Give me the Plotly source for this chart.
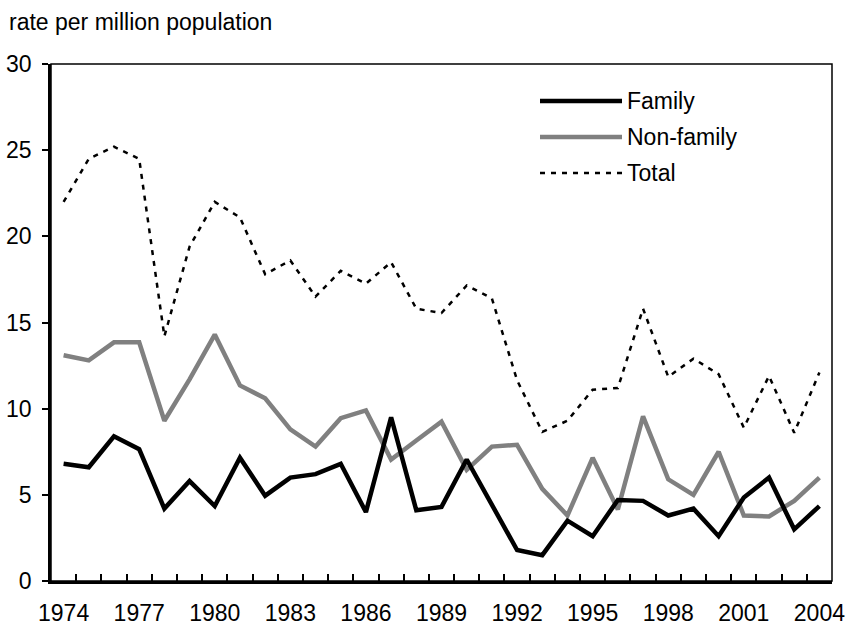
import plotly.graph_objects as go

#%% data
years = list(range(1974, 2005))

family = [6.8, 6.6, 8.4, 7.65, 4.2, 5.8, 4.35, 7.15, 4.95, 6.0,
          6.2, 6.8, 4.0, 9.5, 4.1, 4.3, 7.05, 4.4, 1.8, 1.5,
          3.5, 2.6, 4.7, 4.65, 3.8, 4.2, 2.6, 4.85, 6.0, 3.0,
          4.35]

non_family = [13.1, 12.8, 13.85, 13.85, 9.3, 11.7, 14.3, 11.35, 10.6, 8.8,
              7.8, 9.45, 9.9, 7.05, 8.15, 9.25, 6.45, 7.8, 7.9, 5.35,
              3.8, 7.15, 4.15, 9.55, 5.9, 5.0, 7.5, 3.8, 3.75, 4.65,
              6.0]

total = [22.0, 24.5, 25.2, 24.5, 14.2, 19.4, 22.0, 21.1, 17.8, 18.6,
         16.5, 18.0, 17.25, 18.5, 15.8, 15.55, 17.15, 16.4, 11.65, 8.65,
         9.3, 11.1, 11.2, 15.8, 11.85, 12.9, 12.0, 8.9, 11.9, 8.6,
         12.1]

tick_years = [1974, 1977, 1980, 1983, 1986, 1989, 1992, 1995, 1998, 2001, 2004]

FONT = "Liberation Sans, Arial, sans-serif"
FS = 23

#%% plot area in pixels (845 x 626 page)
L, R, T, B = 51, 832, 64, 581
W, H = 845, 626


def px_x(x):
    return (x - L) / (R - L)


def px_y(y):
    return (B - y) / (B - T)


fig = go.Figure()
fig.add_trace(go.Scatter(x=years, y=total, mode="lines", name="Total",
                         line=dict(color="black", width=2.5, dash="5px,6px")))
fig.add_trace(go.Scatter(x=years, y=non_family, mode="lines", name="Non-family",
                         line=dict(color="#808080", width=4.5)))
fig.add_trace(go.Scatter(x=years, y=family, mode="lines", name="Family",
                         line=dict(color="black", width=4.5)))

# legend drawn by hand so the sample lines are as long as in the original
legend_rows = [("Family", dict(color="black", width=4.5), 101),
               ("Non-family", dict(color="#808080", width=4.5), 137),
               ("Total", dict(color="black", width=2.5, dash="5px,6px"), 173)]
for name, ln, py in legend_rows:
    fig.add_shape(type="line", xref="paper", yref="paper",
                  x0=px_x(540), x1=px_x(622), y0=px_y(py), y1=px_y(py), line=ln)
    fig.add_annotation(text=name, xref="paper", yref="paper", x=px_x(625), y=px_y(py),
                       xanchor="left", yanchor="middle", showarrow=False,
                       font=dict(family=FONT, size=FS, color="black"))

# frame on top and right
fig.add_shape(type="rect", xref="paper", yref="paper", x0=0, x1=1, y0=0, y1=1,
              line=dict(color="black", width=1.5), layer="above")

fig.add_annotation(text="rate per million population", xref="paper", yref="paper",
                   x=px_x(7), y=px_y(22), xanchor="left", yanchor="middle",
                   showarrow=False, font=dict(family=FONT, size=FS, color="black"))

fig.update_layout(
    width=W, height=H,
    margin=dict(l=L, r=W - R, t=T, b=H - B),
    plot_bgcolor="white", paper_bgcolor="white",
    showlegend=False,
    font=dict(family=FONT, size=FS, color="black"),
)
fig.update_xaxes(range=[1973.5, 2004.5], tickmode="array", tickvals=tick_years,
                 ticks="", showgrid=False, zeroline=False, automargin=False,
                 showline=True, linecolor="black", linewidth=2.5,
                 ticklabelstandoff=10, ticklabeloverflow="allow", tickfont=dict(size=FS),
                 minor=dict(tickmode="array",
                            tickvals=[y + 0.5 for y in years[:-1]],
                            ticks="inside", ticklen=7, tickwidth=1.5,
                            tickcolor="black", showgrid=False))
fig.update_yaxes(range=[0, 30], dtick=5, ticks="outside", ticklen=6, tickwidth=1.5,
                 tickcolor="black", showgrid=False, zeroline=False, automargin=False,
                 showline=True, linecolor="black", linewidth=2.5,
                 ticklabelstandoff=6, tickfont=dict(size=FS))

# drop the default 8px body margin so the figure sits at the page corner
fig.write_html("out.html", config={"displayModeBar": False},
               post_script="document.body.style.margin='0';")
